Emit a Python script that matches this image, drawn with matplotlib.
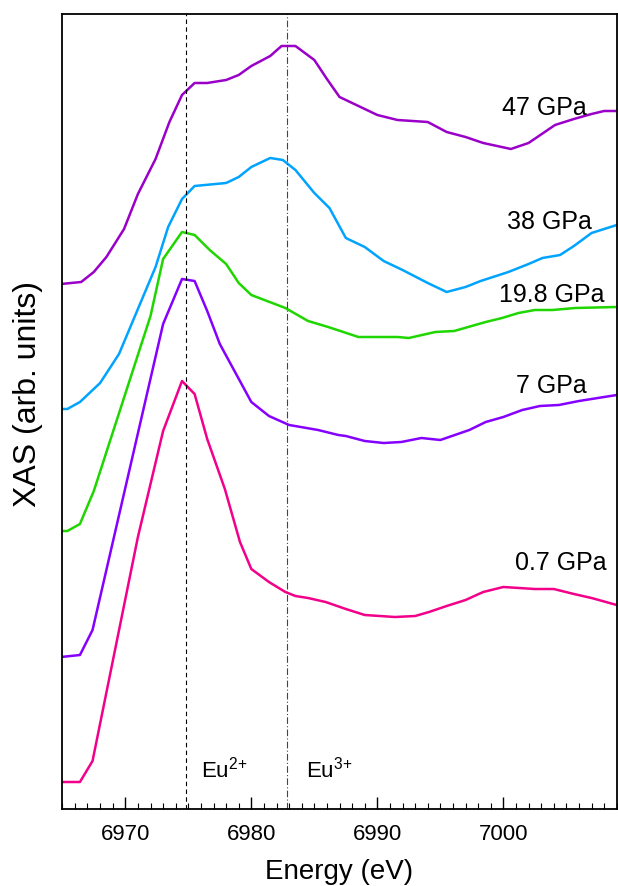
import numpy as np
import matplotlib
matplotlib.use("Agg")
import matplotlib.pyplot as plt
from matplotlib.ticker import MultipleLocator

plt.rcParams['font.family'] = ['Liberation Sans', 'DejaVu Sans']
plt.rcParams['mathtext.default'] = 'regular'

# ---------------- data (offset stacked) ----------------
e_47 = [6964.9, 6966.5, 6967.5, 6968.5, 6969.9, 6971.0, 6972.4, 6973.5, 6974.5, 6975.5,
        6976.5, 6978.0, 6979.0, 6980.0, 6981.5, 6982.4, 6983.5, 6985.0, 6986.0, 6987.0,
        6988.5, 6990.0, 6991.6, 6994.0, 6995.5, 6997.0, 6998.4, 7000.6, 7002.0, 7004.1,
        7005.6, 7007.0, 7008.0, 7009.0]
y_47 = [5.26, 5.28, 5.38, 5.53, 5.81, 6.16, 6.51, 6.88, 7.15, 7.27,
        7.27, 7.30, 7.35, 7.44, 7.54, 7.64, 7.64, 7.50, 7.31, 7.13,
        7.04, 6.95, 6.90, 6.88, 6.78, 6.73, 6.67, 6.61, 6.67, 6.85,
        6.91, 6.96, 6.99, 6.99]

e_38 = [6964.9, 6965.4, 6966.4, 6968.0, 6969.5, 6972.4, 6973.4, 6974.5, 6975.5, 6978.0,
        6979.0, 6980.0, 6981.5, 6982.5, 6983.5, 6985.0, 6986.2, 6987.5, 6989.0, 6990.5,
        6992.0, 6994.0, 6995.5, 6997.0, 6998.2, 7000.4, 7002.0, 7003.1, 7004.5, 7005.6,
        7007.0, 7009.0]
y_38 = [4.01, 4.01, 4.08, 4.27, 4.56, 5.43, 5.83, 6.11, 6.24, 6.27,
        6.33, 6.43, 6.52, 6.50, 6.40, 6.17, 6.02, 5.72, 5.63, 5.49,
        5.40, 5.27, 5.18, 5.23, 5.29, 5.38, 5.46, 5.52, 5.55, 5.64,
        5.77, 5.85]

e_198 = [6964.9, 6965.4, 6966.4, 6967.5, 6972.0, 6973.0, 6974.5, 6975.5, 6976.7, 6978.0,
         6979.0, 6980.0, 6982.7, 6984.5, 6986.1, 6988.5, 6991.6, 6992.5, 6994.6, 6996.1,
         6998.6, 6999.9, 7001.2, 7002.5, 7003.9, 7005.7, 7009.0]
y_198 = [2.79, 2.79, 2.86, 3.19, 4.94, 5.51, 5.78, 5.75, 5.60, 5.46,
         5.27, 5.15, 5.02, 4.89, 4.83, 4.73, 4.73, 4.72, 4.78, 4.79,
         4.88, 4.92, 4.97, 5.00, 5.00, 5.02, 5.03]

e_7 = [6964.9, 6966.4, 6967.4, 6973.0, 6974.5, 6975.5, 6976.5, 6977.5, 6980.0, 6981.4,
       6983.0, 6985.3, 6986.9, 6987.5, 6989.0, 6990.5, 6991.9, 6993.5, 6995.0, 6997.3,
       6998.6, 7000.0, 7001.5, 7002.9, 7004.4, 7006.0, 7009.0]
y_7 = [1.53, 1.55, 1.80, 4.86, 5.31, 5.29, 4.99, 4.66, 4.08, 3.94,
       3.85, 3.80, 3.75, 3.74, 3.69, 3.67, 3.68, 3.72, 3.70, 3.80,
       3.88, 3.93, 4.00, 4.04, 4.05, 4.09, 4.15]

e_07 = [6964.9, 6966.4, 6967.4, 6971.0, 6973.0, 6974.5, 6975.5, 6976.5, 6977.9, 6979.1,
        6980.0, 6981.4, 6982.7, 6983.5, 6984.5, 6985.9, 6987.5, 6989.0, 6991.4, 6993.0,
        6994.1, 6995.5, 6997.0, 6998.4, 7000.0, 7002.5, 7004.0, 7005.6, 7007.0, 7009.0]
y_07 = [0.28, 0.28, 0.49, 2.73, 3.79, 4.29, 4.16, 3.71, 3.21, 2.68,
        2.41, 2.28, 2.18, 2.14, 2.12, 2.08, 2.01, 1.95, 1.93, 1.94,
        1.98, 2.04, 2.10, 2.18, 2.23, 2.21, 2.21, 2.16, 2.12, 2.05]

series = [(e_07, y_07, "#F2008A", "0.7 GPa", 2.41),
          (e_7, y_7, "#8600FF", "7 GPa", 4.18),
          (e_198, y_198, "#1FD600", "19.8 GPa", 5.09),
          (e_38, y_38, "#00A4FF", "38 GPa", 5.82),
          (e_47, y_47, "#9A00C8", "47 GPa", 6.96)]
label_x = [7008.2, 7006.6, 7008.0, 7007.0, 7006.6]

eu2 = 6974.8
eu3 = 6982.8

# ---------------- plot ----------------
fig = plt.figure(figsize=(6.18, 8.87), dpi=100)
ax = fig.add_axes([0.1008, 0.0868, 0.8972, 0.8963])

for (e, y, c, lab, ly), lx in zip(series, label_x):
    ax.plot(e, y, color=c, linewidth=1.8)
    ax.text(lx, ly, lab, ha='right', va='baseline', fontsize=18)

ax.axvline(eu2, color='black', linestyle=(0, (4, 3)), linewidth=0.8)
ax.axvline(eu3, color='#444444', linestyle=(0, (6, 2, 1, 2)), linewidth=0.8)
ax.text(6976.0, 0.34, 'Eu$^{2{+}}$', fontsize=16, ha='left', va='baseline')
ax.text(6984.3, 0.34, 'Eu$^{3{+}}$', fontsize=16, ha='left', va='baseline')

ax.set_xlim(6965, 7009)
ax.set_ylim(0.01, 7.96)
ax.xaxis.set_major_locator(MultipleLocator(10))
ax.xaxis.set_minor_locator(MultipleLocator(1))
ax.tick_params(axis='x', which='major', direction='in', length=8.5, width=1.0,
               labelsize=16, pad=10)
ax.tick_params(axis='x', which='minor', direction='in', length=4.5, width=0.8)
ax.set_yticks([])
for s in ax.spines.values():
    s.set_linewidth(1.3)

ax.set_xlabel('Energy (eV)', fontsize=20, labelpad=10)
ax.set_ylabel('XAS (arb. units)', fontsize=23)
ax.yaxis.set_label_coords(-0.035, 0.523)

fig.savefig('out.png', dpi=100)
